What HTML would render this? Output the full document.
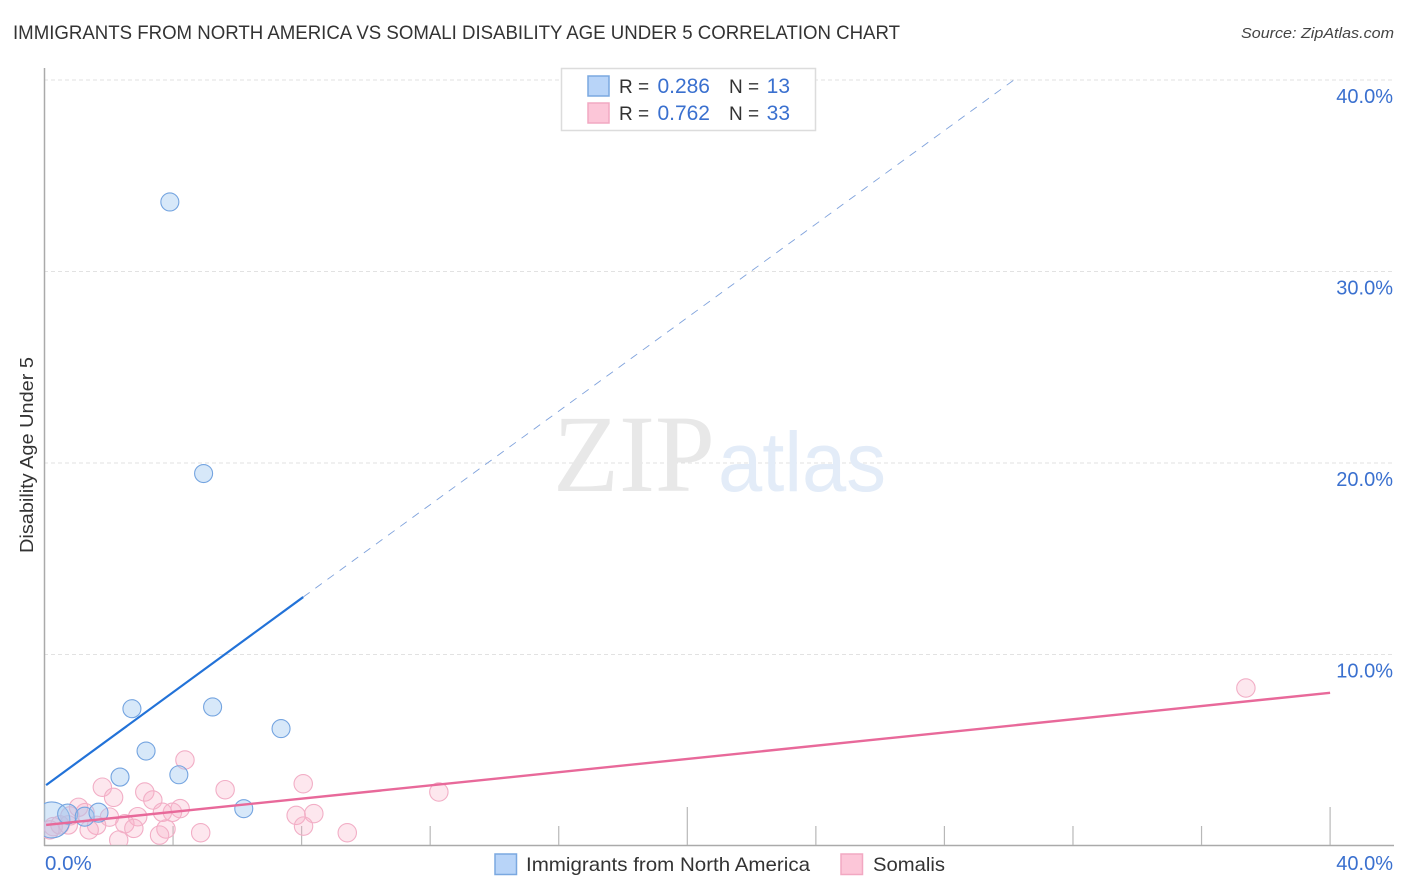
<!DOCTYPE html>
<html>
<head>
<meta charset="utf-8">
<style>
html,body{margin:0;padding:0;background:#fff;width:1406px;height:892px;overflow:hidden}
svg{display:block;font-family:"Liberation Sans",Arial,sans-serif}
</style>
</head>
<body>
<svg id="chart" width="1406" height="892" viewBox="0 0 1406 892" xmlns="http://www.w3.org/2000/svg">
<defs><clipPath id="plot-clip"><rect x="44" y="68" width="1350" height="777"/></clipPath></defs>
<text x="13" y="39" font-size="19" fill="#333" textLength="887" lengthAdjust="spacingAndGlyphs">IMMIGRANTS FROM NORTH AMERICA VS SOMALI DISABILITY AGE UNDER 5 CORRELATION CHART</text>
<text x="1394" y="38" font-size="15" font-style="italic" fill="#444" text-anchor="end" textLength="153" lengthAdjust="spacingAndGlyphs">Source: ZipAtlas.com</text>
<g id="grid"></g>
<g>
<text x="553" y="491" font-family="'Liberation Serif',serif" font-size="110" fill="#e8e8e8" textLength="162" lengthAdjust="spacingAndGlyphs">ZIP</text>
<text x="718" y="491" font-size="84" fill="#e3ecf8" textLength="168" lengthAdjust="spacingAndGlyphs">atlas</text>
</g>
<g id="axes"></g>
<g id="lines" clip-path="url(#plot-clip)"></g>
<g id="points" clip-path="url(#plot-clip)"></g>
<text transform="translate(33,455) rotate(-90)" font-size="18" fill="#333" text-anchor="middle" textLength="196" lengthAdjust="spacingAndGlyphs">Disability Age Under 5</text>
<g id="labels"></g>
<g>
<rect x="561.5" y="68.5" width="254" height="62" fill="#fff" stroke="#dcdcdc" stroke-width="1.5"/>
<rect x="588" y="76" width="21" height="20" fill="#b8d4f8" stroke="#7aa8e0" stroke-width="1.5"/>
<rect x="588" y="103" width="21" height="20" fill="#fcc6d8" stroke="#f2a8c2" stroke-width="1.5"/>
<text x="619" y="93" font-size="19" fill="#333">R =</text>
<text x="710" y="93" font-size="21" fill="#3a70cf" text-anchor="end">0.286</text>
<text x="729" y="93" font-size="19" fill="#333">N =</text>
<text x="790" y="93" font-size="21" fill="#3a70cf" text-anchor="end">13</text>
<text x="619" y="120" font-size="19" fill="#333">R =</text>
<text x="710" y="120" font-size="21" fill="#3a70cf" text-anchor="end">0.762</text>
<text x="729" y="120" font-size="19" fill="#333">N =</text>
<text x="790" y="120" font-size="21" fill="#3a70cf" text-anchor="end">33</text>
</g>
<g>
<rect x="495" y="854" width="21.5" height="20.5" fill="#b8d4f8" stroke="#7aa8e0" stroke-width="1.5"/>
<text x="526" y="871" font-size="19.5" fill="#333" textLength="284" lengthAdjust="spacingAndGlyphs">Immigrants from North America</text>
<rect x="841" y="854" width="21.5" height="20.5" fill="#fcc6d8" stroke="#f2a8c2" stroke-width="1.5"/>
<text x="873" y="871" font-size="19.5" fill="#333" textLength="72" lengthAdjust="spacingAndGlyphs">Somalis</text>
</g>
</svg>
<script>
const yTicks = [10, 20, 30, 40];
const yTickLabels = ["10.0%", "20.0%", "30.0%", "40.0%"];
const xTicks = [0, 4, 8, 12, 16, 20, 24, 28, 32, 36, 40];
const xEndLabels = ["0.0%", "40.0%"];
const blueX = [0.23, 0.72, 1.25, 1.68, 2.35, 2.72, 3.16, 4.18, 5.23, 7.36, 6.20, 3.90, 4.95];
const blueY = [1.36, 1.67, 1.53, 1.74, 3.60, 7.17, 4.96, 3.72, 7.26, 6.13, 1.95, 33.63, 19.45];
const blueSize = [18, 10, 9.5, 9.5, 9, 9, 9, 9, 9, 9, 9, 9, 9];
const pinkX = [4.37, 1.80, 2.15, 3.12, 3.37, 5.62, 8.05, 12.27, 37.38, 7.83, 8.38, 8.06, 9.42, 4.86, 4.22, 3.98, 3.67, 3.78, 3.58, 2.90, 2.50, 2.78, 2.31, 2.02, 1.62, 1.39, 1.06, 1.26, 0.74, 0.48, 0.27, 0.17, 0.79];
const pinkY = [4.49, 3.07, 2.54, 2.82, 2.40, 2.94, 3.25, 2.82, 8.25, 1.60, 1.69, 1.04, 0.69, 0.69, 1.95, 1.76, 1.76, 0.89, 0.57, 1.53, 1.16, 0.92, 0.31, 1.51, 1.08, 0.84, 2.02, 1.74, 1.10, 1.10, 1.01, 0.84, 1.57];
const blueTrendX = [0.05, 8.05];
const blueTrendY = [3.18, 13.0];
const blueDashX = [8.05, 30.16];
const blueDashY = [13.0, 40];
const pinkTrendX = [0.05, 40];
const pinkTrendY = [1.1, 8.0];

const NS = 'http://www.w3.org/2000/svg';
function xScale(v) { return 44.5 + v * 32.14; }
function yScale(v) { return 846 - v * 19.15; }
function make(tag, attrs, parent) {
  const el = document.createElementNS(NS, tag);
  for (const k in attrs) el.setAttribute(k, attrs[k]);
  parent.appendChild(el);
  return el;
}
const gridG = document.getElementById('grid');
const axesG = document.getElementById('axes');
const linesG = document.getElementById('lines');
const pointsG = document.getElementById('points');
const labelsG = document.getElementById('labels');

yTicks.forEach(function (t, i) {
  const line = make('line', {x1: 44, x2: 1394, y1: yScale(t), y2: yScale(t), stroke: '#e2e2e2', 'stroke-width': 1, 'stroke-dasharray': '4 3'}, gridG);
  
  
  const label = make('text', {x: 1393, y: yScale(t) + 23, 'font-size': 20, fill: '#3a70cf', 'text-anchor': 'end'}, labelsG);
  label.textContent = yTickLabels[i];
  
  
});

const yAxis = make('line', {x1: 44.5, x2: 44.5, y1: 68, y2: 846, stroke: '#aaa', 'stroke-width': 1.5}, axesG);


const xAxis = make('line', {x1: 44, x2: 1394, y1: 845.5, y2: 845.5, stroke: '#aaa', 'stroke-width': 1.5}, axesG);


xTicks.forEach(function (t) {
  if (t === 0) return;
  const top = (t % 20 === 0) ? 807 : 826;
  const tick = make('line', {x1: xScale(t), x2: xScale(t), y1: top, y2: 845, stroke: '#b8b8b8', 'stroke-width': 1.2}, axesG);
  
  
});
const xStart = make('text', {x: 45, y: 870, 'font-size': 20.5, fill: '#3a70cf'}, labelsG);
xStart.textContent = xEndLabels[0];


const xEnd = make('text', {x: 1393, y: 870, 'font-size': 20, fill: '#3a70cf', 'text-anchor': 'end'}, labelsG);
xEnd.textContent = xEndLabels[1];



const dash = make('line', {x1: xScale(blueDashX[0]), y1: yScale(blueDashY[0]), x2: xScale(blueDashX[1]), y2: yScale(blueDashY[1]), stroke: '#7fa2dc', 'stroke-width': 0.9, 'stroke-dasharray': '8 7'}, linesG);



pinkX.forEach(function (x, i) {
  const c = make('circle', {cx: xScale(x), cy: yScale(pinkY[i]), r: 9.2, fill: 'rgba(250,175,200,0.3)', stroke: '#f2aec6', 'stroke-width': 1.1}, pointsG);
  
  
});
blueX.forEach(function (x, i) {
  const c = make('circle', {cx: xScale(x), cy: yScale(blueY[i]), r: blueSize[i], fill: 'rgba(160,200,240,0.42)', stroke: '#74a4e0', 'stroke-width': 1.1}, pointsG);
  
  
});

const blueLine = make('line', {x1: xScale(blueTrendX[0]), y1: yScale(blueTrendY[0]), x2: xScale(blueTrendX[1]), y2: yScale(blueTrendY[1]), stroke: '#2272d8', 'stroke-width': 2.2}, pointsG);


const pinkLine = make('line', {x1: xScale(pinkTrendX[0]), y1: yScale(pinkTrendY[0]), x2: xScale(pinkTrendX[1]), y2: yScale(pinkTrendY[1]), stroke: '#e8699a', 'stroke-width': 2.4}, pointsG);


</script>
</body>
</html>
